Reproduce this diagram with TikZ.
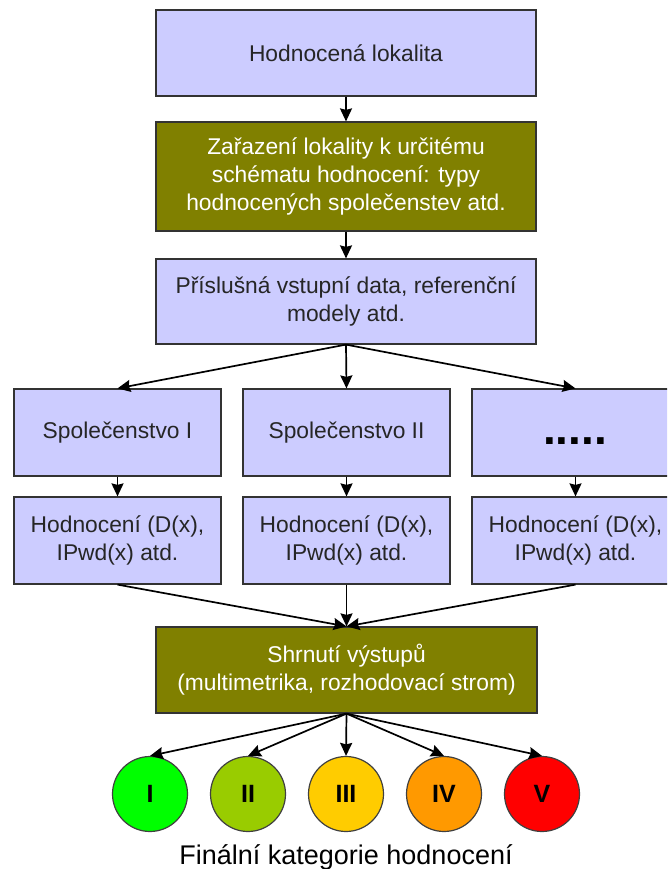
\documentclass[tikz,border=0pt]{standalone}
\usepackage{fontspec}
\setmainfont{Liberation Sans}
\usetikzlibrary{arrows.meta}

\definecolor{lavender}{HTML}{CCCCFF}
\definecolor{olivebox}{HTML}{808000}
\definecolor{catI}{HTML}{00FF00}
\definecolor{catII}{HTML}{99CC00}
\definecolor{catIII}{HTML}{FFCC00}
\definecolor{catIV}{HTML}{FF9900}
\definecolor{catV}{HTML}{FF0000}

\tikzset{
  box/.style={draw=black!80, line width=1.2pt, fill=lavender, text=black!85, align=center, inner sep=0pt, font=\fontsize{22.8}{28}\selectfont},
  olive/.style={box, fill=olivebox, text=white},
  spol/.style={box, minimum width=207pt, minimum height=87pt},
  cat/.style={circle, draw=black!75, line width=1.2pt, minimum size=75pt, inner sep=0pt, font=\fontsize{25}{25}\selectfont\bfseries},
  link/.style={line width=1.7pt, -{Stealth[length=13pt,width=12pt,inset=1.5pt]}},
}

\begin{document}
\begin{tikzpicture}[x=1pt,y=-1pt]

\useasboundingbox (0,0) rectangle (667,869);
\clip (0,0) rectangle (667,869);

\node[box, minimum width=380pt, minimum height=86pt] (lok) at (346,53) {Hodnocená lokalita};
\node[olive, minimum width=380pt, minimum height=109pt] (zar) at (346,176.5) {Zařazení lokality k určitému\\schématu hodnocení: typy\\hodnocených společenstev atd.};
\node[box, minimum width=380pt, minimum height=85pt] (data) at (346,301.5) {Příslušná vstupní data, referenční\\modely atd.};

\node[spol] (spolI) at (117.5,432.5) {Společenstvo I};
\node[spol] (spolII) at (346.5,432.5) {Společenstvo II};
\node[spol] (spolN) at (575.5,432.5) {};
\node[font=\fontsize{46}{46}\selectfont\bfseries] (dots) at (575,441) {.....};

\node[spol] (hodI) at (117.5,540.5) {Hodnocení (D(x),\\IPwd(x) atd.};
\node[spol] (hodII) at (346.5,540.5) {Hodnocení (D(x),\\IPwd(x) atd.};
\node[spol] (hodN) at (575.5,540.5) {Hodnocení (D(x),\\IPwd(x) atd.};

\node[olive, minimum width=381pt, minimum height=86pt] (shr) at (346.5,670) {Shrnutí výstupů\\(multimetrika, rozhodovací strom)};

\foreach \n/\c [count=\i] in {I/catI, II/catII, III/catIII, IV/catIV, V/catV}
  \node[cat, fill=\c] (c\i) at ({52+98*\i},794) {\n};

\node[font=\fontsize{27}{27}\selectfont] (title) at (346,857) {Finální kategorie hodnocení};

\draw[link] (lok) -- (zar);
\draw[link] (zar) -- (data);
\draw[link] (data.south) -- (spolI.north);
\draw[link] (data.south) -- (spolII.north);
\draw[link] (data.south) -- (spolN.north);
\draw[link] (spolI) -- (hodI);
\draw[link] (spolII) -- (hodII);
\draw[link] (spolN) -- (hodN);
\draw[link] (hodI.south) -- (shr.north);
\draw[link] (hodII.south) -- (shr.north);
\draw[link] (hodN.south) -- (shr.north);
\foreach \i in {1,...,5}
  \draw[link] (shr.south) -- (c\i.north);

\end{tikzpicture}
\end{document}
